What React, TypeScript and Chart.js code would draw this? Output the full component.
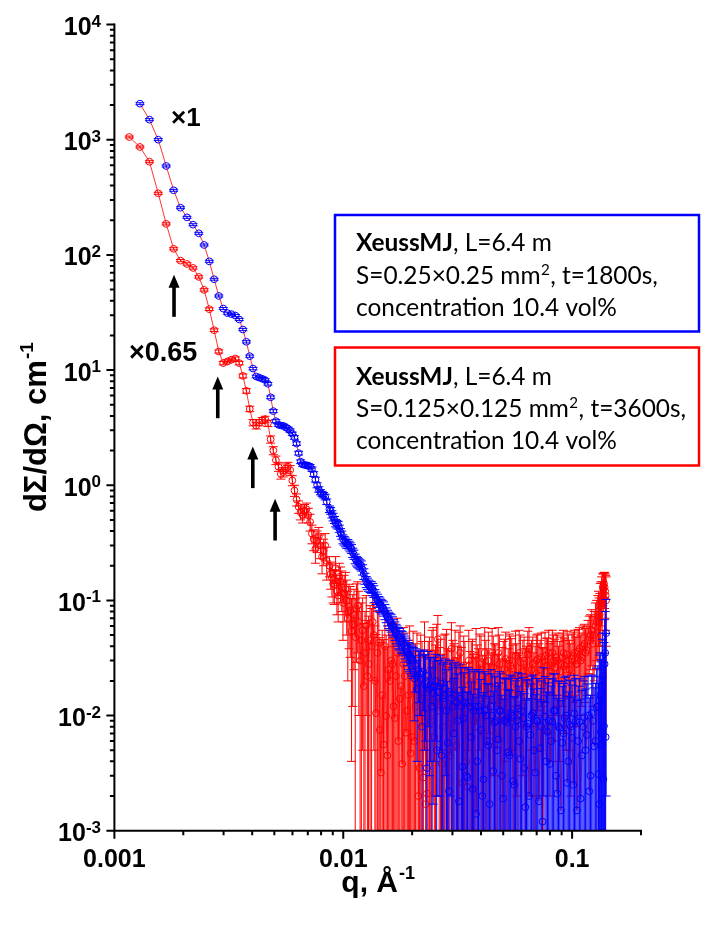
import React, { useEffect, useRef } from "react";
import { Chart, registerables } from "chart.js";

Chart.register(...registerables);

// ---------- data ----------
const q = [
  0.001162, 0.001293, 0.001423, 0.001554, 0.001684, 0.001815, 0.001945, 0.002076, 0.002206, 0.002337,
  0.002467, 0.002598, 0.002728, 0.002859, 0.002989, 0.00312, 0.00325, 0.003381, 0.003511, 0.003642,
  0.003772, 0.003903, 0.004033, 0.004164, 0.004294, 0.004425, 0.004555, 0.004686, 0.004816, 0.004947,
  0.005077, 0.005208, 0.005338, 0.005469, 0.005599, 0.00573, 0.00586, 0.005991, 0.006121, 0.006252,
  0.006382, 0.006513, 0.006643, 0.006774, 0.006904, 0.007035, 0.007165, 0.007296, 0.007426, 0.007557,
  0.007687, 0.007818, 0.007948, 0.008079, 0.008209, 0.00834, 0.00847,
  0.0087, 0.00892, 0.00915, 0.00938, 0.00961, 0.00985, 0.0101, 0.01035, 0.0106, 0.01087,
  0.01114, 0.01142, 0.0117, 0.012, 0.0123, 0.0126, 0.0129, 0.0133, 0.0136, 0.0139,
  0.0143, 0.0146, 0.015, 0.0154, 0.0158, 0.0162, 0.0166, 0.017, 0.0174, 0.0179,
  0.0183, 0.0188, 0.0193, 0.0197, 0.0202, 0.0207, 0.0213, 0.0218, 0.0224, 0.0229,
  0.0235, 0.0241, 0.0247, 0.0253, 0.0259, 0.0266, 0.0272, 0.0279, 0.0286, 0.0293,
  0.0301, 0.0308, 0.0316, 0.0324, 0.0332, 0.034, 0.0349, 0.0358, 0.0367, 0.0376,
  0.0385, 0.0395, 0.0405, 0.0415, 0.0425, 0.0436, 0.0447, 0.0458, 0.047, 0.0481,
  0.0494, 0.0506, 0.0519, 0.0532, 0.0545, 0.0559, 0.0573, 0.0587, 0.0602, 0.0617,
  0.0632, 0.0648, 0.0665, 0.0681, 0.0698, 0.0716, 0.0734, 0.0752, 0.0771, 0.079,
  0.081, 0.083, 0.0851, 0.0872, 0.0894, 0.0917, 0.094, 0.0963, 0.0987, 0.1012,
  0.1037, 0.1063, 0.109, 0.1117, 0.1145, 0.1174, 0.1203, 0.1233, 0.1264, 0.1296,
  0.1312, 0.1328, 0.1345, 0.1361, 0.1378, 0.1395, 0.1408,
];

const blueI = [
  null, 2057, 1494, 1002, 592, 364, 257, 212, 183, 154,
  122, 88, 61.5, 44, 34.2, 31.2, 30.6, 29.7, 27.5, 22.5,
  17.6, 13.2, 10.3, 8.8, 8.6, 8.4, 8.2, 7.6, 5.8, 4.4,
  3.6, 3.35, 3.3, 3.28, 3.2, 3.1, 2.98, 2.8, 2.6, 2.3,
  1.9, 1.6, 1.52, 1.5, 1.49, 1.48, 1.45, 1.38, 1.25, 1.12,
  1.0, 0.92, 0.87, 0.84, 0.82, 0.79, 0.72,
  0.62, 0.56, 0.5, 0.46, 0.42, 0.37, 0.33, 0.31, 0.3, 0.28,
  0.25, 0.22, 0.21, 0.2, 0.17, 0.145, 0.135, 0.13, 0.12, 0.105,
  0.095, 0.09, 0.085, 0.075, 0.068, 0.064, 0.058, 0.052, 0.048, 0.045,
  0.042, 0.038, 0.034, 0.032, 0.03, 0.027, 0.025, 0.023, 0.024, 0.02,
  0.022, 0.018, 0.0157, 0.02, 0.016, 0.019, 0.014, 0.017, 0.0058, 0.016,
  0.012, 0.015, 0.009, 0.014, 0.0036, 0.013, 0.0029, 0.012, 0.0023, 0.012,
  0.004, 0.011, 0.002, 0.011, 0.006, 0.0017, 0.01, 0.0087, 0.005, 0.011,
  0.003, 0.009, 0.0087, 0.0045, 0.01, 0.0025, 0.009, 0.006, 0.011, 0.0035,
  0.008, 0.002, 0.01, 0.005, 0.009, 0.0018, 0.008, 0.014, 0.004, 0.009,
  0.006, 0.011, 0.003, 0.008, 0.0015, 0.007, 0.01, 0.004, 0.008, 0.0025,
  0.009, 0.006, 0.0019, 0.008, 0.005, 0.01, 0.003, 0.009, 0.006, 0.012,
  0.0017, 0.015, 0.0056, 0.022, 0.0081, 0.035, 0.052,
];

const blueErr = [
  null, 40, 30, 20, 12, 7, 5, 4.2, 3.6, 3.1,
  2.4, 1.8, 1.2, 0.9, 0.7, 0.65, 0.65, 0.65, 0.6, 0.5,
  0.4, 0.3, 0.25, 0.22, 0.22, 0.22, 0.22, 0.2, 0.16, 0.13,
  0.11, 0.1, 0.1, 0.1, 0.1, 0.1, 0.1, 0.09, 0.09, 0.08,
  0.07, 0.06, 0.06, 0.06, 0.06, 0.06, 0.06, 0.06, 0.06, 0.055,
  0.05, 0.05, 0.045, 0.045, 0.045, 0.045, 0.04,
  0.04, 0.04, 0.035, 0.035, 0.03, 0.03, 0.028, 0.027, 0.026, 0.025,
  0.023, 0.021, 0.02, 0.02, 0.018, 0.016, 0.015, 0.015, 0.014, 0.013,
  0.013, 0.012, 0.012, 0.011, 0.011, 0.011, 0.01, 0.01, 0.01, 0.0095,
  0.009, 0.009, 0.009, 0.009, 0.009, 0.011, 0.012, 0.013, 0.013, 0.014,
  0.014, 0.014, 0.014, 0.014, 0.014, 0.014, 0.014, 0.014, 0.014, 0.014,
  0.014, 0.014, 0.014, 0.014, 0.014, 0.013, 0.013, 0.013, 0.013, 0.013,
  0.013, 0.013, 0.013, 0.013, 0.013, 0.013, 0.013, 0.013, 0.013, 0.013,
  0.012, 0.012, 0.012, 0.012, 0.012, 0.012, 0.012, 0.012, 0.012, 0.012,
  0.012, 0.012, 0.012, 0.012, 0.012, 0.012, 0.012, 0.012, 0.012, 0.012,
  0.012, 0.012, 0.012, 0.012, 0.012, 0.012, 0.012, 0.012, 0.012, 0.012,
  0.012, 0.012, 0.012, 0.012, 0.012, 0.012, 0.012, 0.013, 0.013, 0.015,
  0.02, 0.02, 0.025, 0.03, 0.035, 0.045, 0.05,
];

const redI = [
  1057, 866, 645, 343, 186, 113, 89.2, 83.5, 77.1, 64.4,
  49.7, 33.8, 22.2, 14.5, 11.5, 11.9, 12.3, 12.6, 11.5, 8.9,
  6.6, 4.6, 3.5, 3.3, 3.5, 3.65, 3.75, 3.45, 2.5, 2.0,
  1.65, 1.45, 1.25, 1.3, 1.4, 1.45, 1.35, 1.1, 0.9, 0.75,
  0.65, 0.58, 0.55, 0.6, 0.62, 0.55, 0.48, 0.38, 0.34, 0.28,
  0.33, 0.36, 0.3, 0.24, 0.27, 0.3, 0.22,
  0.2, 0.157, 0.137, 0.12, 0.16, 0.13, 0.115, 0.1, 0.088, 0.054,
  0.075, 0.084, 0.065, 0.045, 0.018, 0.06, 0.028, 0.04, 0.05, 0.0105,
  0.043, 0.0032, 0.0056, 0.0099, 0.025, 0.03, 0.012, 0.022, 0.006, 0.018,
  0.028, 0.0071, 0.015, 0.0047, 0.024, 0.012, 0.002, 0.02, 0.0029, 0.0017,
  0.016, 0.009, 0.03, 0.013, 0.046, 0.02, 0.008, 0.025, 0.012, 0.0045,
  0.02, 0.03, 0.015, 0.035, 0.0026, 0.02, 0.0024, 0.012, 0.022, 0.008,
  0.018, 0.028, 0.01, 0.035, 0.015, 0.006, 0.035, 0.02, 0.012, 0.028,
  0.018, 0.025, 0.009, 0.03, 0.0255, 0.015, 0.022, 0.035, 0.012, 0.028,
  0.02, 0.038, 0.025, 0.015, 0.03, 0.022, 0.032, 0.018, 0.027, 0.035,
  0.024, 0.03, 0.032, 0.02, 0.028, 0.035, 0.025, 0.03, 0.022, 0.033,
  0.028, 0.036, 0.03, 0.04, 0.035, 0.045, 0.05, 0.042, 0.06, 0.07,
  0.065, 0.09, 0.11, 0.13, 0.14, 0.12, 0.1,
];

const redErr = [
  20, 17, 13, 7, 4, 2.5, 2, 2, 1.8, 1.5,
  1.2, 0.9, 0.6, 0.45, 0.4, 0.4, 0.4, 0.4, 0.4, 0.35,
  0.3, 0.25, 0.22, 0.22, 0.22, 0.22, 0.22, 0.22, 0.18, 0.16,
  0.14, 0.13, 0.12, 0.12, 0.13, 0.13, 0.13, 0.11, 0.1, 0.09,
  0.08, 0.08, 0.08, 0.08, 0.08, 0.08, 0.08, 0.07, 0.07, 0.07,
  0.07, 0.07, 0.07, 0.07, 0.07, 0.08, 0.07,
  0.04, 0.05, 0.045, 0.045, 0.05, 0.05, 0.05, 0.05, 0.05, 0.05,
  0.05, 0.055, 0.055, 0.05, 0.045, 0.05, 0.045, 0.045, 0.045, 0.04,
  0.045, 0.04, 0.04, 0.04, 0.035, 0.035, 0.035, 0.035, 0.035, 0.03,
  0.03, 0.03, 0.03, 0.03, 0.03, 0.03, 0.03, 0.03, 0.03, 0.03,
  0.028, 0.028, 0.028, 0.028, 0.028, 0.026, 0.026, 0.026, 0.026, 0.026,
  0.025, 0.025, 0.025, 0.025, 0.025, 0.024, 0.024, 0.024, 0.024, 0.024,
  0.023, 0.023, 0.023, 0.023, 0.023, 0.022, 0.022, 0.022, 0.022, 0.022,
  0.021, 0.021, 0.021, 0.021, 0.021, 0.02, 0.02, 0.02, 0.02, 0.02,
  0.02, 0.02, 0.02, 0.02, 0.02, 0.02, 0.02, 0.02, 0.02, 0.02,
  0.02, 0.02, 0.02, 0.02, 0.02, 0.02, 0.02, 0.02, 0.02, 0.02,
  0.02, 0.02, 0.02, 0.02, 0.022, 0.022, 0.025, 0.03, 0.035, 0.04,
  0.04, 0.05, 0.05, 0.04, 0.035, 0.05, 0.06,
];

// extra, interleaved readings in the dense high-q part
const qExtra = [
  0.00881, 0.00903, 0.00926, 0.0095, 0.00973, 0.00997, 0.01022, 0.01047, 0.01073, 0.011,
  0.01128, 0.01156, 0.01185, 0.01215, 0.01245, 0.01275, 0.0131, 0.01345, 0.01375, 0.0141,
  0.01445, 0.0148, 0.0152, 0.0156, 0.016, 0.0164, 0.0168, 0.0172, 0.01765, 0.0181,
  0.01855, 0.01905, 0.0195, 0.01995,
  0.02045, 0.021, 0.02155, 0.0221, 0.02265, 0.0232, 0.0238, 0.0244, 0.025, 0.0256,
  0.02625, 0.0269, 0.02755, 0.02825, 0.02895, 0.0297, 0.03045, 0.0312, 0.032, 0.0328,
  0.0336, 0.03445, 0.03535, 0.03625, 0.03715, 0.03805, 0.039, 0.04, 0.041, 0.042,
  0.04305, 0.04415, 0.04525, 0.0464, 0.04755, 0.04875, 0.05, 0.05125, 0.05255, 0.05385,
  0.0552, 0.0566, 0.058, 0.05945, 0.06095, 0.06245, 0.064, 0.06565, 0.0673, 0.06895,
  0.0707, 0.0725, 0.0743, 0.07615, 0.07805, 0.08, 0.082, 0.08405, 0.08615, 0.0883,
  0.09055, 0.09285, 0.09515, 0.0975, 0.09995, 0.10245, 0.105, 0.10765, 0.11035, 0.1131,
  0.11595, 0.11885, 0.1218, 0.12485, 0.128, 0.1304, 0.132, 0.13365, 0.1353, 0.13695,
  0.13865, 0.14015,
];

const blueExtra = [
  0.6, 0.53, 0.47, 0.45, 0.39, 0.34, 0.32, 0.31, 0.29, 0.26,
  0.23, 0.215, 0.205, 0.185, 0.155, 0.14, 0.132, 0.125, 0.11, 0.1,
  0.092, 0.088, 0.08, 0.071, 0.066, 0.061, 0.055, 0.05, 0.047, 0.044,
  0.04, 0.036, 0.033, 0.031,
  0.021, 0.017, 0.023, 0.008, 0.019, 0.0035, 0.017, 0.012, 0.018, 0.005,
  0.016, 0.0045, 0.015, 0.011, 0.0022, 0.014, 0.007, 0.013, 0.0018, 0.012,
  0.0095, 0.003, 0.013, 0.0065, 0.011, 0.0014, 0.012, 0.0075, 0.0028, 0.01,
  0.0055, 0.012, 0.0033, 0.009, 0.0062, 0.011, 0.0019, 0.0092, 0.0048, 0.0105,
  0.0027, 0.008, 0.0115, 0.0042, 0.0095, 0.0016, 0.0085, 0.0068, 0.0105, 0.0032,
  0.009, 0.0052, 0.0012, 0.0098, 0.0072, 0.0038, 0.0088, 0.011, 0.0021, 0.0078,
  0.0058, 0.0095, 0.0026, 0.0083, 0.0064, 0.0104, 0.0015, 0.0088, 0.0045, 0.0097,
  0.0068, 0.0022, 0.0105, 0.0054, 0.0118, 0.0031, 0.0135, 0.0072, 0.018, 0.0028,
  0.028, 0.0065,
];

const blueExtraErr = [
  0.04, 0.04, 0.035, 0.035, 0.03, 0.03, 0.028, 0.027, 0.026, 0.024,
  0.022, 0.021, 0.02, 0.019, 0.017, 0.016, 0.015, 0.015, 0.014, 0.013,
  0.013, 0.012, 0.012, 0.011, 0.011, 0.011, 0.01, 0.01, 0.01, 0.0095,
  0.009, 0.009, 0.009, 0.009,
  0.012, 0.013, 0.013, 0.014, 0.014, 0.014, 0.014, 0.014, 0.014, 0.014,
  0.014, 0.014, 0.014, 0.014, 0.014, 0.014, 0.014, 0.014, 0.014, 0.014,
  0.014, 0.013, 0.013, 0.013, 0.013, 0.013, 0.013, 0.013, 0.013, 0.013,
  0.013, 0.013, 0.013, 0.013, 0.013, 0.012, 0.012, 0.012, 0.012, 0.012,
  0.012, 0.012, 0.012, 0.012, 0.012, 0.012, 0.012, 0.012, 0.012, 0.012,
  0.012, 0.012, 0.012, 0.012, 0.012, 0.012, 0.012, 0.012, 0.012, 0.012,
  0.012, 0.012, 0.012, 0.012, 0.012, 0.012, 0.012, 0.012, 0.012, 0.012,
  0.012, 0.012, 0.012, 0.012, 0.014, 0.016, 0.02, 0.022, 0.028, 0.032,
  0.04, 0.045,
];

const redExtra = [
  0.17, 0.14, 0.19, 0.11, 0.145, 0.095, 0.125, 0.07, 0.082, 0.062,
  0.048, 0.09, 0.03, 0.055, 0.035, 0.022, 0.045, 0.065, 0.02, 0.035,
  0.0075, 0.015, 0.04, 0.0045, 0.02, 0.028, 0.0095, 0.035, 0.014, 0.0038,
  0.022, 0.011, 0.03, 0.0065,
  0.006, 0.022, 0.0035, 0.014, 0.035, 0.0021, 0.018, 0.025, 0.0065, 0.032,
  0.011, 0.0038, 0.022, 0.028, 0.0085, 0.038, 0.016, 0.0055, 0.027, 0.013,
  0.024, 0.004, 0.03, 0.019, 0.009, 0.033, 0.014, 0.025, 0.007, 0.021,
  0.03, 0.012, 0.026, 0.018, 0.035, 0.009, 0.022, 0.031, 0.016, 0.027,
  0.02, 0.033, 0.014, 0.029, 0.024, 0.018, 0.034, 0.022, 0.028, 0.02,
  0.031, 0.025, 0.019, 0.033, 0.027, 0.022, 0.035, 0.026, 0.03, 0.024,
  0.032, 0.027, 0.034, 0.025, 0.031, 0.035, 0.028, 0.038, 0.032, 0.042,
  0.037, 0.048, 0.055, 0.05, 0.065, 0.08, 0.075, 0.1, 0.095, 0.125,
  0.13, 0.11,
];

const redExtraErr = [
  0.045, 0.045, 0.05, 0.045, 0.05, 0.05, 0.05, 0.05, 0.05, 0.05,
  0.055, 0.055, 0.05, 0.05, 0.045, 0.045, 0.045, 0.045, 0.04, 0.045,
  0.04, 0.04, 0.04, 0.035, 0.035, 0.035, 0.035, 0.035, 0.03, 0.03,
  0.03, 0.03, 0.03, 0.03,
  0.03, 0.03, 0.03, 0.03, 0.03, 0.03, 0.03, 0.03, 0.03, 0.03,
  0.028, 0.028, 0.028, 0.028, 0.028, 0.026, 0.026, 0.026, 0.026, 0.026,
  0.025, 0.025, 0.025, 0.025, 0.025, 0.024, 0.024, 0.024, 0.024, 0.024,
  0.023, 0.023, 0.023, 0.023, 0.023, 0.022, 0.022, 0.022, 0.022, 0.022,
  0.021, 0.021, 0.021, 0.021, 0.021, 0.02, 0.02, 0.02, 0.02, 0.02,
  0.02, 0.02, 0.02, 0.02, 0.02, 0.02, 0.02, 0.02, 0.02, 0.02,
  0.02, 0.02, 0.02, 0.02, 0.02, 0.02, 0.02, 0.02, 0.02, 0.02,
  0.022, 0.025, 0.028, 0.03, 0.035, 0.04, 0.04, 0.045, 0.05, 0.045,
  0.045, 0.055,
];

const xTickValues = [0.001, 0.01, 0.1];
const xTickLabels = ["0.001", "0.01", "0.1"];
const yTickExponents = [4, 3, 2, 1, 0, -1, -2, -3];

// arrows marking peaks: [q, I at tip, I at tail]
const arrowQ = [0.001822, 0.002829, 0.004025, 0.005037];
const arrowTipI = [67.1, 8.78, 2.167, 0.762];
const arrowTailI = [29.0, 3.82, 0.944, 0.331];

const scaleLabels = ["×1", "×0.65"];
const scaleLabelQ = [0.001768, 0.001158];
const scaleLabelI = [1318, 11.9];

const blueLegendLines = ["XeussMJ", ", L=6.4 m", "S=0.25×0.25 mm", ", t=1800s,", "concentration 10.4 vol%"];
const redLegendLines = ["XeussMJ", ", L=6.4 m", "S=0.125×0.125 mm", ", t=3600s,", "concentration 10.4 vol%"];

const BLUE = "#0000ff";
const RED = "#ff0000";
const AX_FONT = "'Liberation Sans', Arial, sans-serif";
const LEG_FONT = "Lato, 'Open Sans', sans-serif";

function toPoints(I: (number | null)[], E: (number | null)[], IX: number[], EX: number[]) {
  const pts: { x: number; y: number; e: number }[] = [];
  q.forEach((x, i) => {
    const v = I[i];
    if (v != null) pts.push({ x, y: v, e: (E[i] as number) || 0 });
  });
  qExtra.forEach((x, i) => {
    pts.push({ x, y: IX[i], e: EX[i] });
  });
  pts.sort((a, b) => a.x - b.x);
  return pts;
}

const errorBarPlugin = {
  id: "errorBars",
  afterDatasetDraw(chart: any, args: any) {
    const ds = chart.data.datasets[args.index];
    const { ctx, chartArea: ca } = chart;
    const xs = chart.scales.x;
    const ys = chart.scales.y;
    ctx.save();
    ctx.beginPath();
    ctx.rect(ca.left, ca.top, ca.right - ca.left, ca.bottom - ca.top);
    ctx.clip();
    ctx.strokeStyle = ds.errColor;
    ctx.lineWidth = 1;
    ctx.beginPath();
    const cap = 4.5;
    ds.data.forEach((p: any) => {
      const px = xs.getPixelForValue(p.x);
      const top = ys.getPixelForValue(p.y + p.e);
      const lo = p.y - p.e;
      const bot = lo > 0 ? ys.getPixelForValue(lo) : ca.bottom + 10;
      ctx.moveTo(px, top);
      ctx.lineTo(px, bot);
      ctx.moveTo(px - cap, top);
      ctx.lineTo(px + cap, top);
      if (lo > 0) {
        ctx.moveTo(px - cap, bot);
        ctx.lineTo(px + cap, bot);
      }
    });
    ctx.stroke();
    ctx.restore();
  },
};

function drawArrow(ctx: CanvasRenderingContext2D, x: number, tip: number, tail: number) {
  const headL = 13;
  const headW = 5.5;
  ctx.fillStyle = "#000";
  ctx.fillRect(x - 1.8, tip + headL - 1, 3.6, tail - tip - headL + 1);
  ctx.beginPath();
  ctx.moveTo(x, tip);
  ctx.lineTo(x + headW, tip + headL);
  ctx.lineTo(x - headW, tip + headL);
  ctx.closePath();
  ctx.fill();
}

const decorPlugin = {
  id: "decor",
  afterDraw(chart: any) {
    const { ctx, chartArea: ca } = chart;
    const xs = chart.scales.x;
    const ys = chart.scales.y;
    ctx.save();
    ctx.strokeStyle = "#000";
    ctx.fillStyle = "#000";
    ctx.lineWidth = 2;
    // axis lines
    ctx.beginPath();
    ctx.moveTo(ca.left, ca.top - 1);
    ctx.lineTo(ca.left, ca.bottom);
    ctx.lineTo(ca.right + 1, ca.bottom);
    ctx.stroke();
    // ticks
    ctx.beginPath();
    const xe0 = Math.floor(Math.log10(xs.min) + 1e-9);
    const xe1 = Math.ceil(Math.log10(xs.max) - 1e-9);
    for (let e = xe0; e <= xe1; e++) {
      for (let m = 1; m <= 9; m++) {
        const v = m * Math.pow(10, e);
        if (v < xs.min * 0.999 || v > xs.max * 1.001) continue;
        const px = xs.getPixelForValue(v);
        const len = m === 1 ? 8 : 4.5;
        ctx.moveTo(px, ca.bottom);
        ctx.lineTo(px, ca.bottom + len);
      }
    }
    const ye0 = Math.floor(Math.log10(ys.min) + 1e-9);
    const ye1 = Math.ceil(Math.log10(ys.max) - 1e-9);
    for (let e = ye0; e <= ye1; e++) {
      for (let m = 1; m <= 9; m++) {
        const v = m * Math.pow(10, e);
        if (v < ys.min * 0.999 || v > ys.max * 1.001) continue;
        const py = ys.getPixelForValue(v);
        const len = m === 1 ? 8 : 4.5;
        ctx.moveTo(ca.left, py);
        ctx.lineTo(ca.left - len, py);
      }
    }
    ctx.stroke();

    // x tick labels
    ctx.font = `bold 25px ${AX_FONT}`;
    ctx.textAlign = "center";
    ctx.textBaseline = "alphabetic";
    xTickValues.forEach((v, i) => {
      ctx.fillText(xTickLabels[i], xs.getPixelForValue(v), ca.bottom + 36.5);
    });

    // y tick labels 10^n
    const R = 101;
    yTickExponents.forEach((n) => {
      const py = ys.getPixelForValue(Math.pow(10, n));
      ctx.font = `bold 17px ${AX_FONT}`;
      const es = String(n);
      const ew = ctx.measureText(es).width;
      ctx.textAlign = "left";
      ctx.fillText(es, R - ew, py + 2);
      ctx.font = `bold 25px ${AX_FONT}`;
      ctx.textAlign = "right";
      ctx.fillText("10", R - ew, py + 10.5);
    });

    // x title
    ctx.textAlign = "left";
    ctx.font = `bold 30px ${AX_FONT}`;
    const xt = "q, Å";
    const xtw = ctx.measureText(xt).width;
    ctx.font = `bold 18px ${AX_FONT}`;
    const xsw = ctx.measureText("-1").width;
    const xcx = (ca.left + ca.right) / 2;
    const xstart = xcx - (xtw + xsw) / 2;
    ctx.font = `bold 30px ${AX_FONT}`;
    ctx.fillText(xt, xstart, 892);
    ctx.font = `bold 18px ${AX_FONT}`;
    ctx.fillText("-1", xstart + xtw + 1, 879);

    // y title (rotated)
    ctx.save();
    ctx.translate(46, (ca.top + ca.bottom) / 2);
    ctx.rotate(-Math.PI / 2);
    ctx.font = `bold 31px ${AX_FONT}`;
    const yt = "dΣ/dΩ, cm";
    const ytw = ctx.measureText(yt).width;
    ctx.font = `bold 19px ${AX_FONT}`;
    const ysw = ctx.measureText("-1").width;
    const ys0 = -(ytw + ysw) / 2;
    ctx.font = `bold 31px ${AX_FONT}`;
    ctx.fillText(yt, ys0, 0);
    ctx.font = `bold 19px ${AX_FONT}`;
    ctx.fillText("-1", ys0 + ytw + 1, -13);
    ctx.restore();

    // scale-factor labels
    ctx.textAlign = "left";
    scaleLabels.forEach((t, i) => {
      ctx.font = `bold ${i === 0 ? 26 : 27}px ${AX_FONT}`;
      ctx.fillText(t, xs.getPixelForValue(scaleLabelQ[i]), ys.getPixelForValue(scaleLabelI[i]));
    });

    // arrows
    arrowQ.forEach((aq, i) => {
      drawArrow(ctx, xs.getPixelForValue(aq), ys.getPixelForValue(arrowTipI[i]), ys.getPixelForValue(arrowTailI[i]));
    });

    // legend boxes
    ctx.font = `24px ${LEG_FONT}`;
    const refW = ctx.measureText("concentration 10.4 vol%").width;
    const fs = (24 * 261) / refW;
    const drawBox = (lines: string[], color: string, top: number, bottom: number, base: number[]) => {
      ctx.strokeStyle = color;
      ctx.lineWidth = 2.5;
      ctx.strokeRect(335, top, 699 - 335, bottom - top);
      ctx.fillStyle = "#000";
      ctx.textAlign = "left";
      const lx = 356;
      ctx.font = `bold ${fs}px ${LEG_FONT}`;
      ctx.fillText(lines[0], lx, base[0]);
      const bw = ctx.measureText(lines[0]).width;
      ctx.font = `${fs}px ${LEG_FONT}`;
      ctx.fillText(lines[1], lx + bw, base[0]);
      ctx.fillText(lines[2], lx, base[1]);
      const w2 = ctx.measureText(lines[2]).width;
      ctx.font = `${fs * 0.62}px ${LEG_FONT}`;
      ctx.fillText("2", lx + w2 + 0.5, base[1] - fs * 0.38);
      const sw = ctx.measureText("2").width;
      ctx.font = `${fs}px ${LEG_FONT}`;
      ctx.fillText(lines[3], lx + w2 + sw + 1, base[1]);
      ctx.fillText(lines[4], lx, base[2]);
    };
    drawBox(blueLegendLines, BLUE, 215, 331.5, [251, 284, 316]);
    drawBox(redLegendLines, RED, 347.5, 465.5, [385, 417, 449]);

    ctx.restore();
  },
};

export default function App() {
  const ref = useRef<HTMLCanvasElement | null>(null);
  useEffect(() => {
    if (!ref.current) return;
    const chart = new Chart(ref.current, {
      type: "scatter",
      data: {
        datasets: [
          {
            label: "XeussMJ S=0.25×0.25",
            data: toPoints(blueI, blueErr, blueExtra, blueExtraErr),
            showLine: true,
            borderColor: RED,
            borderWidth: 0.8,
            pointRadius: 3.4,
            pointBorderWidth: 1,
            pointBorderColor: BLUE,
            pointBackgroundColor: "rgba(0,0,0,0)",
            errColor: BLUE,
          } as any,
          {
            label: "XeussMJ S=0.125×0.125",
            data: toPoints(redI, redErr, redExtra, redExtraErr),
            showLine: true,
            borderColor: RED,
            borderWidth: 0.8,
            pointRadius: 3.4,
            pointBorderWidth: 1,
            pointBorderColor: RED,
            pointBackgroundColor: "rgba(0,0,0,0)",
            errColor: RED,
          } as any,
        ],
      },
      options: {
        animation: false,
        responsive: false,
        maintainAspectRatio: false,
        devicePixelRatio: 1,
        layout: { padding: { left: 114.4, right: 61, top: 24.6, bottom: 95.3 } },
        plugins: { legend: { display: false }, tooltip: { enabled: false } },
        scales: {
          x: { type: "logarithmic", min: 0.001, max: 0.2, display: false },
          y: { type: "logarithmic", min: 0.001, max: 10000, display: false },
        },
      },
      plugins: [errorBarPlugin, decorPlugin],
    });
    return () => chart.destroy();
  }, []);
  return (
    <div style={{ position: "absolute", left: 0, top: 0, width: 702, height: 926, background: "#fff" }}>
      <canvas ref={ref} width={702} height={926} style={{ display: "block" }} />
    </div>
  );
}
